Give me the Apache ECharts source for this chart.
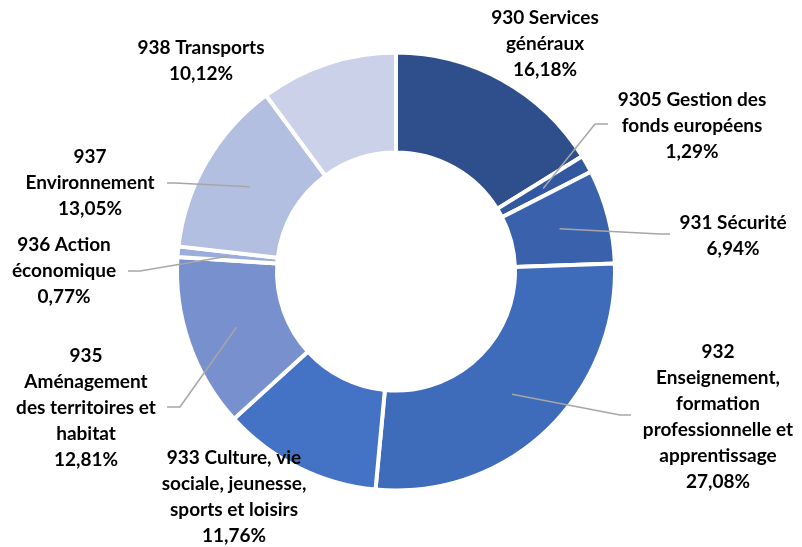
<!DOCTYPE html>
<html>
<head>
<meta charset="utf-8">
<script src="https://cdn.jsdelivr.net/npm/echarts@6/dist/echarts.min.js"></script>
<style>
html,body{margin:0;padding:0;background:#fff;}
#chart{width:802px;height:547px;}
</style>
</head>
<body>
<div id="chart"></div>
<script>
// Data
const categories = [
  '930 Services\ngénéraux',
  '9305 Gestion des\nfonds européens',
  '931 Sécurité',
  '932\nEnseignement,\nformation\nprofessionnelle et\napprentissage',
  '933 Culture, vie\nsociale, jeunesse,\nsports et loisirs',
  '935\nAménagement\ndes territoires et\nhabitat',
  '936 Action\néconomique',
  '937\nEnvironnement',
  '938 Transports'
];
const values = [16.18, 1.29, 6.94, 27.08, 11.76, 12.81, 0.77, 13.05, 10.12];
const colors = ['#2E4F8B', '#3458A0', '#3A62AC', '#3F6BBB', '#4472C4', '#7990CF', '#9AADDC', '#B3BFE0', '#CBD1E9'];
const showLeader = [false, true, true, true, false, true, true, true, false];

// Label layout (styles / positions only)
const labelPos = [
  [545, 44], [692, 126], [733, 236], [718, 417], [234, 497],
  [86, 408], [64, 271], [90, 183], [201, 61]
];
const leaderEnd = [
  null, [[595, 124], [608, 124]], [[660, 234], [670, 234]], [[620, 415], [631, 415]], null,
  [[180, 407], [167, 407]], [[140, 271], [128, 271]], [[175, 183], [167, 183]], null
];

const chart = echarts.init(document.getElementById('chart'), null, {renderer: 'canvas'});

function fmtPct(v) { return v.toFixed(2).replace('.', ',') + '%'; }

const data = categories.map((c, i) => ({
  name: c,
  value: values[i],
  itemStyle: {color: colors[i]}
}));

const option = {
  backgroundColor: '#ffffff',
  animation: false,
  series: [{
    type: 'pie',
    center: [396, 271.5],
    radius: [119, 219],
    startAngle: 90,
    clockwise: true,
    avoidLabelOverlap: false,
    itemStyle: {borderColor: '#ffffff', borderWidth: 4},
    label: {
      show: true,
      position: 'outside',
      formatter: p => p.name + '\n' + fmtPct(p.value),
      fontFamily: 'Lato',
      fontWeight: 'bold',
      fontSize: 19,
      lineHeight: 26,
      color: '#000000',
      align: 'center'
    },
    labelLine: {show: false},
    labelLayout: function (params) {
      const i = params.dataIndex;
      return {x: labelPos[i][0], y: labelPos[i][1], align: 'center', verticalAlign: 'middle'};
    },
    data: data
  }]
};
chart.setOption(option);

// Leader lines from each slice's mid-ring point (library layout) to its label
const sData = chart.getModel().getSeriesByIndex(0).getData();
const lines = [];
values.forEach((v, i) => {
  if (!showLeader[i] || !leaderEnd[i]) return;
  const lay = sData.getItemLayout(i);
  const mid = (lay.startAngle + lay.endAngle) / 2;
  const rm = (lay.r + lay.r0) / 2;
  const p0 = [lay.cx + rm * Math.cos(mid), lay.cy + rm * Math.sin(mid)];
  lines.push({
    type: 'polyline',
    z: 100,
    silent: true,
    shape: {points: [p0, leaderEnd[i][0], leaderEnd[i][1]]},
    style: {stroke: '#A6A6A6', lineWidth: 1.5, fill: null}
  });
});
chart.setOption({graphic: lines});
</script>
</body>
</html>
